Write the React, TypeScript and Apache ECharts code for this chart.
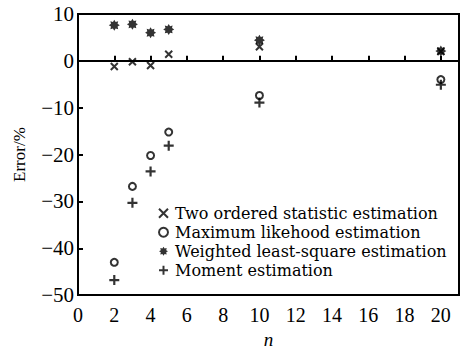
import React, { useEffect, useRef } from "react";
import * as echarts from "echarts";

const nValues = [2, 3, 4, 5, 10, 20];
const twoOrdered = [-1.2, -0.2, -1.0, 1.4, 3.0, 2.0];
const maxLikelihood = [-43.0, -26.8, -20.2, -15.2, -7.4, -4.0];
const weightedLS = [7.6, 7.8, 6.0, 6.7, 4.4, 2.1];
const moment = [-46.8, -30.3, -23.6, -18.1, -8.9, -5.1];

const seriesNames = [
  "Two ordered statistic estimation",
  "Maximum likehood estimation",
  "Weighted least-square estimation",
  "Moment estimation",
];

function starPath(): string {
  const pts: string[] = [];
  const spikes = 8;
  for (let i = 0; i < spikes * 2; i++) {
    const r = i % 2 === 0 ? 10 : 6.5;
    const a = (Math.PI * i) / spikes - Math.PI / 2;
    pts.push(`${(10 + r * Math.cos(a)).toFixed(2)},${(10 + r * Math.sin(a)).toFixed(2)}`);
  }
  return "path://M" + pts.join("L") + "Z";
}

const FONT = "Liberation Serif";
const LEGEND_FONT = "DejaVu Serif";

export default function App() {
  const ref = useRef<HTMLDivElement>(null);
  useEffect(() => {
    if (!ref.current) return;
    const chart = echarts.init(ref.current, null, { renderer: "svg" });
    const mk = (arr: number[]) => nValues.map((n, i) => [n, arr[i]]);
    const minus = (v: number) => String(v).replace("-", "\u2212");
    chart.setOption({
      animation: false,
      backgroundColor: "#fff",
      grid: {
        left: 78,
        right: 8,
        top: 14,
        bottom: 46,
        show: true,
        borderColor: "#000",
        borderWidth: 2,
      },
      legend: {
        orient: "vertical",
        left: 153,
        top: 199,
        itemGap: 0.5,
        itemWidth: 9,
        itemHeight: 9,
        textStyle: {
          fontFamily: LEGEND_FONT,
          fontSize: 16,
          color: "#000",
          lineHeight: 18.5,
          padding: [0, 0, 0, 2],
        },
        data: seriesNames,
      },
      xAxis: {
        type: "value",
        min: 0,
        max: 21,
        interval: 2,
        name: "n",
        nameLocation: "middle",
        nameGap: 29,
        nameTextStyle: { fontFamily: FONT, fontSize: 19, fontStyle: "italic", color: "#000" },
        axisLine: { lineStyle: { color: "#000", width: 2 } },
        axisTick: { inside: true, length: 5, lineStyle: { color: "#000", width: 2 } },
        axisLabel: {
          showMaxLabel: false,
          fontFamily: FONT,
          fontSize: 20,
          color: "#000",
          margin: 10,
        },
        splitLine: { show: false },
      },
      yAxis: {
        type: "value",
        min: -50,
        max: 10,
        interval: 10,
        name: "Error/%",
        nameLocation: "middle",
        nameGap: 50,
        nameTextStyle: { fontFamily: FONT, fontSize: 17, color: "#000" },
        axisLine: { lineStyle: { color: "#000", width: 2 } },
        axisTick: { inside: true, length: 5, lineStyle: { color: "#000", width: 2 } },
        axisLabel: {
          fontFamily: FONT,
          fontSize: 21,
          color: "#000",
          margin: 4,
          formatter: (v: number) => minus(v),
        },
        splitLine: { show: false },
      },
      series: [
        {
          name: seriesNames[0],
          type: "scatter",
          data: mk(twoOrdered),
          symbol: "path://M0,0L10,10M10,0L0,10",
          symbolSize: 7,
          itemStyle: { color: "#000", borderColor: "#000", borderWidth: 2 },
        },
        {
          name: seriesNames[1],
          type: "scatter",
          data: mk(maxLikelihood),
          symbol: "emptyCircle",
          symbolSize: 7,
          itemStyle: { color: "#000", borderColor: "#000", borderWidth: 1.8 },
        },
        {
          name: seriesNames[2],
          type: "scatter",
          data: mk(weightedLS),
          symbol: starPath(),
          symbolSize: 11,
          itemStyle: { color: "#000" },
        },
        {
          name: seriesNames[3],
          type: "scatter",
          data: mk(moment),
          symbol: "path://M3.9,0H6.1V3.9H10V6.1H6.1V10H3.9V6.1H0V3.9H3.9Z",
          symbolSize: 10,
          itemStyle: { color: "#000" },
        },
      ],
    });
    return () => chart.dispose();
  }, []);
  return <div ref={ref} style={{ width: 467, height: 354, position: "absolute", left: 0, top: 0 }} />;
}
